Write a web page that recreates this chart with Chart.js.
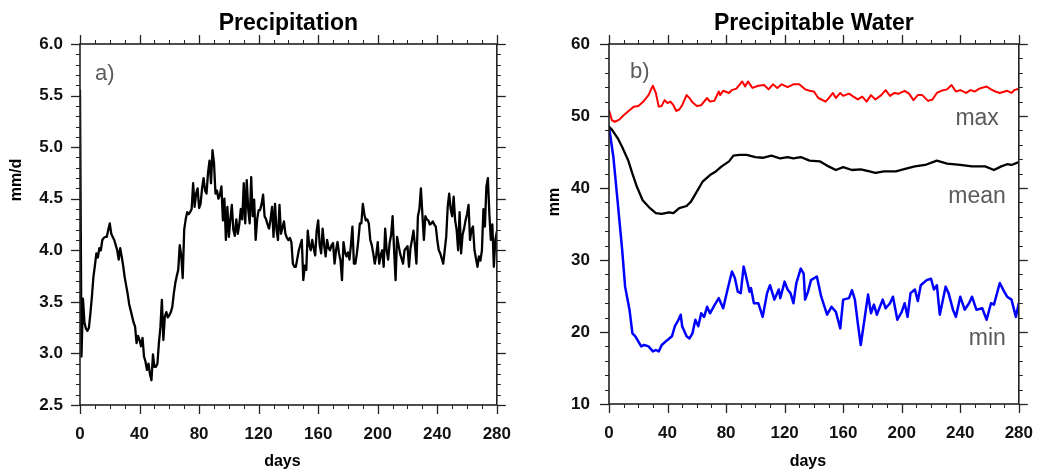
<!DOCTYPE html>
<html>
<head>
<meta charset="utf-8">
<script src="https://cdn.jsdelivr.net/npm/chart.js@4/dist/chart.umd.min.js"></script>
<style>
html,body{margin:0;padding:0;background:#fff;}
#wrap{position:relative;width:1052px;height:469px;overflow:hidden;}
.cv{position:absolute;top:0;}
</style>
</head>
<body>
<div id="wrap">
  <canvas id="chartA" class="cv" style="left:0px" width="530" height="469"></canvas>
  <canvas id="chartB" class="cv" style="left:530px" width="522" height="469"></canvas>
</div>
<script>
// ---------------- DATA ----------------
const dayTicks = [0, 40, 80, 120, 160, 200, 240, 280];
const precipTicks = [2.5, 3.0, 3.5, 4.0, 4.5, 5.0, 5.5, 6.0];
const pwTicks = [10, 20, 30, 40, 50, 60];

// Panel a) precipitation (mm/d), daily
const precipDays = [];
const precipVals = [
  5.55,2.97,3.53,3.30,3.24,3.22,3.25,3.39,3.55,3.74,
  3.85,3.97,3.93,4.02,4.00,4.10,4.12,4.13,4.13,4.20,
  4.26,4.16,4.13,4.10,4.05,4.00,3.91,4.02,3.94,3.85,
  3.74,3.66,3.58,3.48,3.42,3.36,3.30,3.26,3.10,3.17,
  3.13,3.07,3.15,2.97,2.92,2.84,2.90,2.80,2.74,2.99,
  2.87,2.87,2.90,3.10,3.25,3.52,3.13,3.36,3.40,3.35,
  3.37,3.40,3.45,3.58,3.68,3.75,3.81,4.05,3.95,3.73,
  4.20,4.30,4.37,4.35,4.37,4.40,4.65,4.42,4.55,4.60,
  4.41,4.45,4.60,4.70,4.58,4.55,4.75,4.87,4.65,4.97,
  4.85,4.55,4.58,4.50,4.54,4.62,4.29,4.50,4.10,4.42,
  4.13,4.30,4.44,4.20,4.14,4.30,4.16,4.25,4.40,4.30,
  4.65,4.26,4.68,4.40,4.26,4.71,4.33,4.49,4.10,4.30,
  4.39,4.39,4.45,4.54,4.33,4.30,4.25,4.21,4.30,4.42,
  4.13,4.45,4.20,4.10,4.44,4.16,4.22,4.28,4.16,4.12,
  4.10,4.12,4.08,3.87,3.84,3.84,3.92,4.00,4.05,4.10,
  3.71,3.85,3.81,4.19,4.05,4.00,4.10,4.02,3.95,4.19,
  4.29,4.05,3.97,4.21,4.05,3.94,4.10,4.02,4.00,4.05,
  4.07,3.87,4.00,4.08,3.97,3.90,3.71,4.08,3.98,3.94,
  3.98,3.91,4.05,4.23,3.87,3.87,3.97,4.10,4.26,4.26,
  4.45,4.35,4.29,4.30,4.26,4.10,4.05,3.97,3.87,3.95,
  4.08,3.87,3.95,4.00,3.84,4.21,4.00,3.91,4.07,4.15,
  4.33,4.00,3.71,4.13,4.05,3.97,3.92,3.87,4.00,4.02,
  4.04,3.84,4.02,4.10,4.19,4.05,3.87,4.33,4.40,4.60,
  4.35,4.10,4.33,4.30,4.29,4.25,4.26,4.28,4.25,4.23,
  4.10,4.00,3.97,3.92,3.87,4.00,4.13,4.42,4.55,4.40,
  4.33,4.52,4.29,4.20,4.00,4.37,3.97,4.15,4.21,4.29,
  4.35,4.44,4.10,4.20,4.23,4.00,3.92,3.84,3.94,3.90,
  4.00,4.40,4.23,4.62,4.70,4.35,4.10,4.25,3.84,4.10,
  4.18
];
for (let i = 0; i < precipVals.length; i++) precipDays.push(i);

// Panel b) precipitable water (mm)
const maxDays = [0,2,4,7,10,14,17,20,23,27,29,30,32,34,36,38,40,42,44,46,48,50,53,55,57,60,63,67,69,72,75,76,78,82,84,87,89,91,93,95,98,102,106,109,112,115,118,122,126,130,134,137,140,143,148,151,153,155,158,160,164,167,170,173,176,179,182,186,189,192,195,198,202,205,208,211,214,218,221,224,227,231,234,237,240,244,247,250,253,258,261,264,267,272,275,277,280];
const maxVals = [50.8,49.4,49.2,49.5,50.1,50.8,51.3,51.4,51.9,52.9,53.8,54.2,53.2,51.3,51.4,52.2,51.8,52.0,51.5,50.7,50.9,51.5,52.9,52.5,51.9,51.4,51.5,52.5,52.0,52.1,53.4,52.9,53.5,53.2,53.6,53.8,54.3,54.8,54.1,54.8,53.9,54.2,54.3,53.7,54.4,53.9,54.4,54.0,54.4,54.4,53.7,53.5,53.4,52.5,52.0,52.7,53.2,52.5,53.2,52.8,53.1,52.7,52.3,52.7,52.0,52.9,52.3,52.9,53.6,52.8,53.2,53.1,53.5,53.1,52.2,52.9,52.9,52.1,52.3,53.2,53.5,53.7,54.3,53.4,53.6,53.2,53.6,53.4,53.8,54.1,53.7,53.4,53.2,53.5,53.2,53.6,53.8];

const meanDays = [0,2,6,9,13,16,19,23,28,32,36,41,44,48,53,56,60,64,69,73,77,82,85,89,94,100,105,111,117,122,126,131,137,144,150,155,160,166,172,178,182,188,196,203,209,216,224,231,240,248,257,263,268,272,275,280];
const meanVals = [48.5,48.1,46.9,45.7,43.9,42.0,40.2,38.3,37.2,36.5,36.4,36.6,36.5,37.2,37.5,38.1,39.5,40.9,41.8,42.3,43.0,43.7,44.5,44.6,44.6,44.3,44.2,44.5,44.1,44.3,44.1,44.3,43.8,43.7,43.0,42.5,42.9,42.5,42.6,42.3,42.1,42.3,42.3,42.7,43.0,43.2,43.8,43.4,43.2,43.0,43.0,42.5,43.0,43.3,43.2,43.6];

const minDays = [0,3,6,9,11,14,16,18,20,22,24,27,30,32,34,36,40,43,45,47,49,50,53,55,57,59,61,63,65,67,69,72,75,78,81,84,86,88,90,92,93,96,97,99,102,105,108,110,113,116,117,120,122,124,126,128,131,133,134,136,138,142,145,149,152,155,158,160,164,166,168,170,172,175,177,179,181,183,187,189,192,194,197,200,202,204,206,209,211,213,217,220,222,224,226,230,232,235,237,240,243,246,248,251,255,258,261,263,267,270,272,275,278,280];
const minVals = [48.5,44.3,37.9,31.4,26.3,23.1,19.8,19.4,18.7,18.0,18.2,18.0,17.3,17.5,17.3,18.2,18.9,19.4,20.8,21.5,22.4,20.8,19.4,19.1,19.8,21.7,20.8,22.6,22.1,23.5,22.6,23.7,24.7,23.3,25.9,28.4,27.5,25.6,25.4,29.1,28.3,25.6,26.1,24.0,24.0,22.1,25.4,26.5,24.5,25.9,24.7,27.0,25.9,25.4,24.0,26.8,28.8,28.1,24.5,25.6,27.2,27.7,24.9,22.4,23.5,22.8,20.5,24.5,24.7,25.8,24.5,21.2,18.2,22.4,25.2,22.6,23.8,22.4,24.5,23.3,24.0,24.9,21.7,22.8,24.0,22.1,25.4,25.9,24.3,26.5,27.2,27.4,25.9,26.5,22.4,26.3,25.4,23.1,22.1,24.9,23.1,24.0,24.9,23.1,23.3,21.7,24.0,23.8,26.8,25.6,24.9,24.5,22.1,24.0];

// Curve labels in panel b) (anchored in data units)
const curveLabels = [
  { text: 'max',  day: 251.5, value: 48.8 },
  { text: 'mean', day: 251.5, value: 37.9 },
  { text: 'min',  day: 258.5, value: 18.2 }
];

// ---------------- DRAWING ----------------
const FONT = '"Liberation Sans", Arial, Helvetica, sans-serif';

function pairs(xs, ys) { return xs.map((d, i) => ({ x: d, y: ys[i] })); }

const decorPlugin = {
  id: 'decor',
  afterDraw(chart, args, o) {
    const ctx = chart.ctx;
    const { left, right, top, bottom } = chart.chartArea;
    const xs = chart.scales.x, ys = chart.scales.y;
    ctx.save();
    ctx.strokeStyle = '#222';
    ctx.lineCap = 'butt';
    const seg = (x1, y1, x2, y2) => { ctx.beginPath(); ctx.moveTo(x1, y1); ctx.lineTo(x2, y2); ctx.stroke(); };
    for (let v = o.xMin; v <= o.xMax + 1e-9; v += o.xMinorStep) {
      const px = Math.round(xs.getPixelForValue(v)) + 0.5;
      const major = o.xMajor.some(m => Math.abs(m - v) < 1e-6);
      const L = major ? 9 : 4;
      ctx.lineWidth = major ? 1.3 : 1;
      seg(px, bottom, px, bottom + L);
      seg(px, top, px, top - L);
    }
    for (let v = o.yMin; v <= o.yMax + 1e-9; v += o.yMinorStep) {
      const py = Math.round(ys.getPixelForValue(v)) + 0.5;
      const major = o.yMajor.some(m => Math.abs(m - v) < 1e-6);
      const L = major ? 9 : 4;
      ctx.lineWidth = major ? 1.3 : 1;
      seg(left, py, left - L, py);
      seg(right, py, right + L, py);
    }
    ctx.lineWidth = 1.6;
    ctx.strokeRect(left, top, right - left, bottom - top);

    ctx.fillStyle = '#000';
    ctx.textAlign = 'center';
    ctx.textBaseline = 'alphabetic';
    ctx.font = 'bold 23px ' + FONT;
    ctx.fillText(o.title, (left + right) / 2, 30);

    ctx.font = 'bold 16px ' + FONT;
    ctx.fillText('days', (left + right) / 2 - 6, 466);

    ctx.save();
    ctx.translate(o.yTitleX, o.yTitleY);
    ctx.rotate(-Math.PI / 2);
    ctx.textBaseline = 'middle';
    ctx.fillText(o.yTitle, 0, 0);
    ctx.restore();

    ctx.fillStyle = '#5a5a5a';
    ctx.textAlign = 'left';
    ctx.font = '22px ' + FONT;
    ctx.fillText(o.panel, left + o.panelDx, top + o.panelDy);

    if (o.labels) {
      ctx.font = '23px ' + FONT;
      ctx.textAlign = 'center';
      for (const l of o.labels) {
        ctx.fillText(l.text, xs.getPixelForValue(l.day), ys.getPixelForValue(l.value));
      }
    }
    ctx.restore();
  }
};

function makeChart(id, cfg) {
  return new Chart(document.getElementById(id), {
    type: 'line',
    data: { datasets: cfg.datasets },
    plugins: [decorPlugin],
    options: {
      responsive: false,
      devicePixelRatio: 1,
      animation: false,
      events: [],
      layout: { padding: { left: 0, right: cfg.padRight, top: 44, bottom: 0 } },
      plugins: {
        legend: { display: false },
        title: { display: false },
        tooltip: { enabled: false },
        decor: cfg.decor
      },
      elements: { point: { radius: 0 }, line: { tension: 0, borderJoinStyle: 'round', borderCapStyle: 'round' } },
      scales: {
        x: {
          type: 'linear', min: 0, max: 280,
          grid: { display: false, drawTicks: false },
          border: { display: false },
          afterBuildTicks: s => { s.ticks = dayTicks.map(v => ({ value: v })); },
          afterFit: s => { s.height = cfg.xHeight; },
          ticks: {
            padding: 19, color: '#111', maxRotation: 0, autoSkip: false,
            font: { family: FONT, size: 17, weight: 'bold' },
            callback: v => String(v)
          }
        },
        y: {
          type: 'linear', min: cfg.yMin, max: cfg.yMax,
          grid: { display: false, drawTicks: false },
          border: { display: false },
          afterBuildTicks: s => { s.ticks = cfg.yTicks.map(v => ({ value: v })); },
          afterFit: s => { s.width = cfg.yWidth; },
          ticks: {
            padding: cfg.yPad, color: '#111', autoSkip: false,
            font: { family: FONT, size: 17, weight: 'bold' },
            callback: cfg.yFmt
          }
        }
      }
    }
  });
}

makeChart('chartA', {
  padRight: 23, xHeight: 64, yWidth: 80, yPad: 17,
  yMin: 2.5, yMax: 6.0, yTicks: precipTicks, yFmt: v => v.toFixed(1),
  datasets: [{ data: pairs(precipDays, precipVals), borderColor: '#000', borderWidth: 2.3, fill: false }],
  decor: {
    title: 'Precipitation', yTitle: 'mm/d', yTitleX: 17, yTitleY: 180,
    panel: 'a)', panelDx: 15, panelDy: 36,
    xMin: 0, xMax: 280, xMinorStep: 10, xMajor: dayTicks,
    yMin: 2.5, yMax: 6.0, yMinorStep: 0.1, yMajor: precipTicks
  }
});

makeChart('chartB', {
  padRight: 11, xHeight: 65, yWidth: 79, yPad: 19,
  yMin: 10, yMax: 60, yTicks: pwTicks, yFmt: v => String(v),
  datasets: [
    { data: pairs(maxDays, maxVals), borderColor: '#ff0000', borderWidth: 2, fill: false },
    { data: pairs(meanDays, meanVals), borderColor: '#000', borderWidth: 2.3, fill: false },
    { data: pairs(minDays, minVals), borderColor: '#0000ff', borderWidth: 2.5, fill: false }
  ],
  decor: {
    title: 'Precipitable Water', yTitle: 'mm', yTitleX: 25, yTitleY: 202,
    panel: 'b)', panelDx: 21, panelDy: 34,
    xMin: 0, xMax: 280, xMinorStep: 10, xMajor: dayTicks,
    yMin: 10, yMax: 60, yMinorStep: 2, yMajor: pwTicks,
    labels: curveLabels
  }
});
</script>
</body>
</html>
